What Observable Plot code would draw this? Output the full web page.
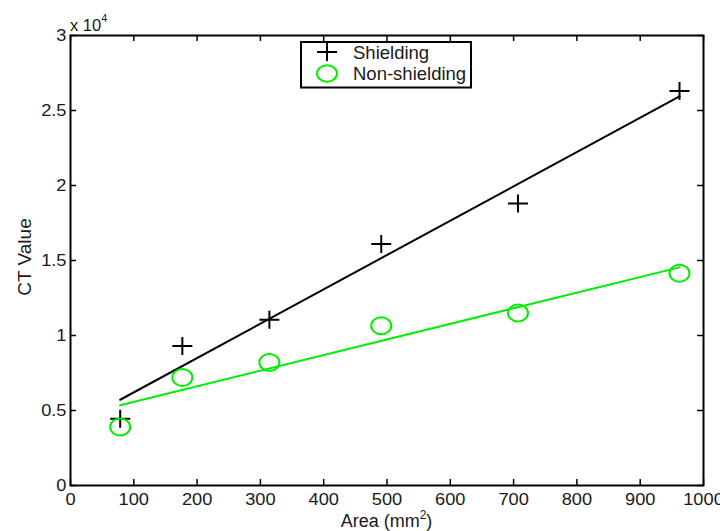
<!DOCTYPE html>
<html>
<head>
<meta charset="utf-8">
<script src="https://cdn.jsdelivr.net/npm/d3@7"></script>
<script src="https://cdn.jsdelivr.net/npm/@observablehq/plot@0.6"></script>
<style>
  html, body { margin: 0; padding: 0; background: #fff; }
  #chart { width: 720px; height: 531px; }
</style>
</head>
<body>
<div id="chart"></div>
<script>
// ---- data ----
const area = [78.5, 176.7, 314.2, 490.9, 706.9, 962.1];
const shielding = [4450, 9300, 11050, 16100, 18800, 26300];
const nonShielding = [3900, 7200, 8200, 10650, 11500, 14150];
const xTicks = [0, 100, 200, 300, 400, 500, 600, 700, 800, 900, 1000];
const yTicks = [0, 5000, 10000, 15000, 20000, 25000, 30000];
const seriesNames = ["Shielding", "Non-shielding"];
const seriesColors = ["#000000", "#00ee00"];

const rows = area.flatMap((a, i) => [
  {area: a, value: shielding[i], series: seriesNames[0]},
  {area: a, value: nonShielding[i], series: seriesNames[1]}
]);
const sh = rows.filter(d => d.series === seriesNames[0]);
const ns = rows.filter(d => d.series === seriesNames[1]);

// marker shapes (the reference is slightly wider than tall)
const plusSymbol = {
  draw(ctx, size) {
    const r = Math.sqrt(size / Math.PI), ry = r * 0.9;
    ctx.moveTo(-r, 0); ctx.lineTo(r, 0);
    ctx.moveTo(0, -ry); ctx.lineTo(0, ry);
  }
};
const ovalSymbol = {
  draw(ctx, size) {
    const rx = Math.sqrt(size / Math.PI), ry = rx * 0.85, k = 0.5523;
    ctx.moveTo(rx, 0);
    ctx.bezierCurveTo(rx, ry * k, rx * k, ry, 0, ry);
    ctx.bezierCurveTo(-rx * k, ry, -rx, ry * k, -rx, 0);
    ctx.bezierCurveTo(-rx, -ry * k, -rx * k, -ry, 0, -ry);
    ctx.bezierCurveTo(rx * k, -ry, rx, -ry * k, rx, 0);
    ctx.closePath();
  }
};

const W = 720, H = 531, mL = 70, mR = 17, mT = 35, mB = 46;
const frameH = H - mT - mB, frameW = W - mL - mR;
const tickLen = 6;
const font = "'Liberation Sans', Arial, Helvetica, sans-serif";
const ink = "#1a1a1a";

const plot = Plot.plot({
  width: W, height: H,
  marginLeft: mL, marginRight: mR, marginTop: mT, marginBottom: mB,
  x: {domain: [0, 1000]},
  y: {domain: [0, 30000]},
  style: {fontFamily: font, fontSize: "16px", color: ink, background: "#fff"},
  marks: [
    Plot.tickX(xTicks, {x: d => d, insetTop: frameH - tickLen, stroke: "#000", strokeWidth: 1.5}),
    Plot.tickX(xTicks, {x: d => d, insetBottom: frameH - tickLen, stroke: "#000", strokeWidth: 1.5}),
    Plot.tickY(yTicks, {y: d => d, insetRight: frameW - tickLen, stroke: "#000", strokeWidth: 1.5}),
    Plot.tickY(yTicks, {y: d => d, insetLeft: frameW - tickLen, stroke: "#000", strokeWidth: 1.5}),
    Plot.frame({stroke: "#000", strokeWidth: 2}),
    Plot.axisX({ticks: xTicks, tickSize: 0, tickPadding: 8, label: null, fontSize: 16, tickFormat: d => String(d)}),
    Plot.axisY({ticks: yTicks, tickSize: 0, tickPadding: 4, label: null, fontSize: 16, tickFormat: d => String(d / 10000)}),
    Plot.linearRegressionY(sh, {x: "area", y: "value", stroke: seriesColors[0], strokeWidth: 2, ci: 0}),
    Plot.linearRegressionY(ns, {x: "area", y: "value", stroke: seriesColors[1], strokeWidth: 2, ci: 0}),
    Plot.dot(sh, {x: "area", y: "value", symbol: plusSymbol, r: 10, stroke: seriesColors[0], strokeWidth: 2, fill: "none"}),
    Plot.dot(ns, {x: "area", y: "value", symbol: ovalSymbol, r: 10, stroke: seriesColors[1], strokeWidth: 2, fill: "none"})
  ]
});

document.getElementById("chart").appendChild(plot);

// widen tick labels slightly, as in the reference raster
const svg = d3.select(plot);
svg.selectAll('g[aria-label$="tick label"] text').each(function () {
  const t = d3.select(this);
  const tr = t.attr("transform");
  if (tr) {
    t.attr("transform", tr + " scale(1.14,1)");
  } else {
    const x = +t.attr("x") || 0, y = +t.attr("y") || 0;
    t.attr("x", null).attr("y", null).attr("transform", `translate(${x},${y}) scale(1.14,1)`);
  }
});

// ---- annotations: exponent, axis labels, legend ----
const xs = plot.scale("x"), ys = plot.scale("y");
const fLeft = xs.apply(0), fRight = xs.apply(1000), fTop = ys.apply(30000), fBottom = ys.apply(0);

const exp = svg.append("text")
  .attr("x", fLeft).attr("y", fTop - 4.5)
  .attr("text-anchor", "start")
  .attr("font-family", font).attr("font-size", 16.5).attr("fill", ink);
exp.append("tspan").text("x 10");
exp.append("tspan").attr("font-size", 11).attr("dy", -9).text("4");

svg.append("text")
  .attr("transform", `translate(${fLeft - 39},${(fTop + fBottom) / 2 - 3}) rotate(-90)`)
  .attr("text-anchor", "middle")
  .attr("font-family", font).attr("font-size", 19).attr("fill", ink)
  .text("CT Value");

const xl = svg.append("text")
  .attr("x", (fLeft + fRight) / 2).attr("y", fBottom + 42)
  .attr("text-anchor", "middle")
  .attr("font-family", font).attr("font-size", 18).attr("fill", ink);
xl.append("tspan").text("Area (mm");
xl.append("tspan").attr("font-size", 12).attr("dy", -8).text("2");
xl.append("tspan").attr("dy", 8).text(")");

const lg = svg.append("g").attr("transform", `translate(${fLeft + 231},${fTop + 7})`);
lg.append("rect").attr("width", 170).attr("height", 45.5)
  .attr("fill", "#fff").attr("stroke", "#000").attr("stroke-width", 2);
const entries = [
  {name: seriesNames[0], color: seriesColors[0], kind: "plus"},
  {name: seriesNames[1], color: seriesColors[1], kind: "oval"}
];
entries.forEach((e, i) => {
  const cy = 10 + i * 21.5, cx = 26;
  if (e.kind === "plus") {
    lg.append("path").attr("d", `M${cx - 10},${cy}H${cx + 10}M${cx},${cy - 9}V${cy + 9}`)
      .attr("stroke", e.color).attr("stroke-width", 2).attr("fill", "none");
  } else {
    lg.append("ellipse").attr("cx", cx).attr("cy", cy).attr("rx", 10).attr("ry", 8.2)
      .attr("stroke", e.color).attr("stroke-width", 2).attr("fill", "none");
  }
  lg.append("text").attr("x", 52).attr("y", cy + 6.5)
    .attr("text-anchor", "start")
    .attr("font-family", font).attr("font-size", 18.5).attr("fill", ink)
    .text(e.name);
});
</script>
</body>
</html>
